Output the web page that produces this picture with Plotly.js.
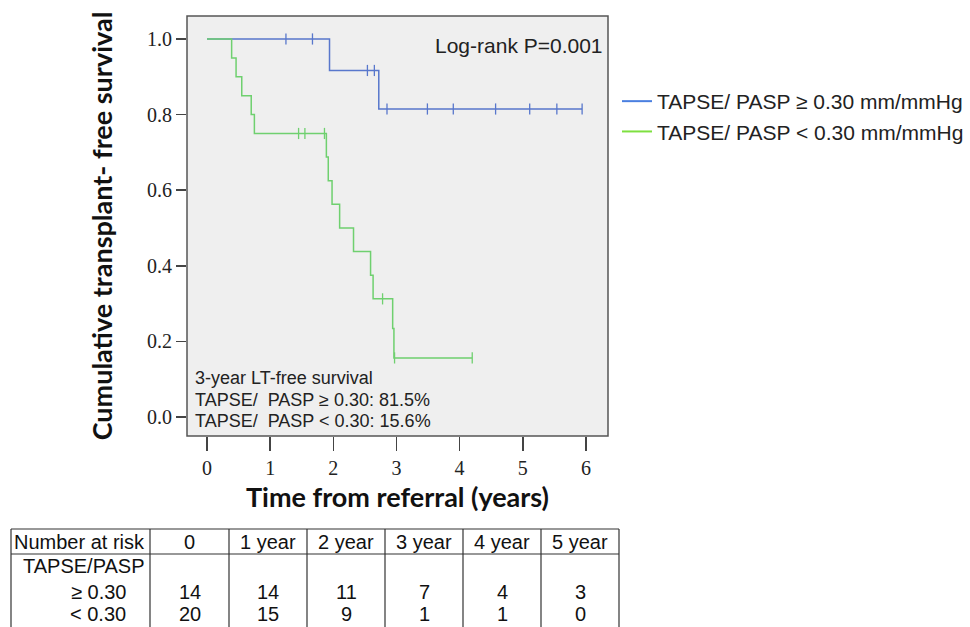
<!DOCTYPE html>
<html>
<head>
<meta charset="utf-8">
<script src="https://cdn.plot.ly/plotly-3.0.1.min.js"></script>
<style>html,body{margin:0;padding:0;background:#fff;}#chart{width:970px;height:627px;}</style>
</head>
<body>
<div id="chart"></div>
<script>
// ---- Data ----
const highName = 'TAPSE/ PASP \u2265 0.30 mm/mmHg';
const lowName = 'TAPSE/ PASP < 0.30 mm/mmHg';

const highTimes = [0, 1.94, 2.72, 5.94];
const highSurv = [1.0, 0.9167, 0.8148, 0.8148];
const highCensor = [1.25, 1.67, 2.54, 2.65, 2.85, 3.49, 3.90, 4.57, 5.11, 5.54, 5.94];

const lowTimes = [0, 0.39, 0.46, 0.55, 0.70, 0.75, 1.89, 1.92, 1.98, 2.10, 2.32, 2.59, 2.63, 2.94, 2.96, 4.20];
const lowSurv = [1.0, 0.95, 0.90, 0.85, 0.80, 0.75, 0.6875, 0.625, 0.5625, 0.50, 0.4375, 0.375, 0.3125, 0.2344, 0.1563, 0.1563];
const lowCensor = [1.45, 1.55, 1.86, 2.78, 2.97, 4.20];

const xTicks = [0, 1, 2, 3, 4, 5, 6];
const yTicks = [0.0, 0.2, 0.4, 0.6, 0.8, 1.0];
const yTickText = ['0.0', '0.2', '0.4', '0.6', '0.8', '1.0'];

const logRankText = 'Log-rank P=0.001';
const noteLines = ['3-year LT-free survival', 'TAPSE/  PASP \u2265 0.30: 81.5%', 'TAPSE/  PASP < 0.30: 15.6%'];

const riskHeader = ['Number at risk', '0', '1 year', '2 year', '3 year', '4 year', '5 year'];
const riskGroupLabel = 'TAPSE/PASP';
const riskRowLabels = ['\u2265 0.30', '< 0.30'];
const riskHigh = [14, 14, 11, 7, 4, 3];
const riskLow = [20, 15, 9, 1, 1, 0];

// ---- Styles / layout ----
const blue = '#5877cc';
const green = '#6fd06f';
const legendBlue = '#4a7fe0';
const legendGreen = '#7ee040';

function stepAt(times, surv, t) {
  let s = surv[0];
  for (let i = 0; i < times.length; i++) { if (times[i] <= t) s = surv[i]; }
  return s;
}

const L = 187, R = 608, T = 16, B = 436, W = 970, H = 627;
const px = x => (x - L) / (R - L);
const py = y => (B - y) / (B - T);

const traces = [
  {x: highTimes, y: highSurv, mode: 'lines', line: {shape: 'hv', color: blue, width: 1.5}, showlegend: false, hoverinfo: 'skip'},
  {x: lowTimes, y: lowSurv, mode: 'lines', line: {shape: 'hv', color: green, width: 1.5}, showlegend: false, hoverinfo: 'skip'},
  {x: highCensor, y: highCensor.map(t => stepAt(highTimes, highSurv, t)), mode: 'markers',
   marker: {symbol: 'line-ns-open', size: 8, color: blue, line: {color: blue, width: 1.3}}, showlegend: false},
  {x: lowCensor, y: lowCensor.map(t => stepAt(lowTimes, lowSurv, t)), mode: 'markers',
   marker: {symbol: 'line-ns-open', size: 8, color: green, line: {color: green, width: 1.3}}, showlegend: false},
  {x: [null], y: [null], mode: 'lines', name: highName, line: {color: legendBlue, width: 2}, legendgroup: 'a'},
  {x: [null], y: [null], mode: 'lines', name: lowName, line: {color: legendGreen, width: 2}, legendgroup: 'b'}
];

const annotations = [];
annotations.push({xref: 'paper', yref: 'paper', x: px(605), y: py(46), xanchor: 'right', yanchor: 'middle',
  text: logRankText, showarrow: false, font: {family: 'Liberation Sans, Arial', size: 21, color: '#222'}});
noteLines.forEach((t, i) => {
  annotations.push({xref: 'paper', yref: 'paper', x: px(193), y: py(378 + i * 21.5), xanchor: 'left', yanchor: 'middle',
    text: t, showarrow: false, font: {family: 'Liberation Sans, Arial', size: 18, color: '#222'}});
});

// risk table
const colLines = [11, 150, 229, 307, 385, 463, 541, 619];
const tFont = {family: 'Liberation Sans, Arial', size: 20, color: '#111'};
riskHeader.forEach((t, i) => {
  if (i === 0) {
    annotations.push({xref: 'paper', yref: 'paper', x: px(12), y: py(542), xanchor: 'left', yanchor: 'middle', text: t, showarrow: false, font: tFont});
  } else {
    annotations.push({xref: 'paper', yref: 'paper', x: px((colLines[i] + colLines[i + 1]) / 2), y: py(542), xanchor: 'center', yanchor: 'middle', text: t, showarrow: false, font: tFont});
  }
});
annotations.push({xref: 'paper', yref: 'paper', x: px(21), y: py(566), xanchor: 'left', yanchor: 'middle', text: riskGroupLabel, showarrow: false, font: tFont});
[riskHigh, riskLow].forEach((row, r) => {
  const yy = r === 0 ? 592 : 614;
  annotations.push({xref: 'paper', yref: 'paper', x: px(128), y: py(yy), xanchor: 'right', yanchor: 'middle', text: riskRowLabels[r], showarrow: false, font: tFont});
  row.forEach((v, i) => {
    annotations.push({xref: 'paper', yref: 'paper', x: px((colLines[i + 1] + colLines[i + 2]) / 2), y: py(yy), xanchor: 'center', yanchor: 'middle', text: String(v), showarrow: false, font: tFont});
  });
});

const shapes = [];
const lineStyle = {color: '#333', width: 1.2};
shapes.push({type: 'line', xref: 'paper', yref: 'paper', x0: px(11), x1: px(619), y0: py(529), y1: py(529), line: lineStyle});
shapes.push({type: 'line', xref: 'paper', yref: 'paper', x0: px(11), x1: px(619), y0: py(554), y1: py(554), line: lineStyle});
colLines.forEach(c => {
  shapes.push({type: 'line', xref: 'paper', yref: 'paper', x0: px(c), x1: px(c), y0: py(529), y1: py(630), line: lineStyle});
});
// plot frame
shapes.push({type: 'rect', xref: 'paper', yref: 'paper', x0: 0, x1: 1, y0: 0, y1: 1, line: {color: '#555', width: 1.5}, fillcolor: 'rgba(0,0,0,0)'});

const layout = {
  width: W, height: H,
  margin: {l: L, r: W - R, t: T, b: H - B, pad: 0, autoexpand: false},
  paper_bgcolor: '#ffffff',
  plot_bgcolor: '#efefef',
  showlegend: true,
  legend: {x: px(617), y: py(81), xanchor: 'left', yanchor: 'top', bgcolor: 'rgba(0,0,0,0)',
    font: {family: 'Liberation Sans, Arial', size: 21, color: '#222'}, tracegroupgap: 0, traceorder: 'grouped'},
  xaxis: {
    range: [-0.317, 6.35], tickvals: xTicks, ticktext: xTicks.map(String),
    ticks: 'outside', ticklen: 14, tickwidth: 1.5, tickcolor: '#444',
    showgrid: false, zeroline: false, showline: false,
    tickfont: {family: 'Liberation Serif, Times New Roman', size: 20, color: '#222'},
    title: {text: 'Time from referral (years)', font: {family: 'Lato, Open Sans', size: 27, color: '#111', weight: 'bold'}, standoff: 10}
  },
  yaxis: {
    range: [-0.0503, 1.0608], tickvals: yTicks, ticktext: yTickText,
    ticks: 'outside', ticklen: 10, tickwidth: 1.5, tickcolor: '#444',
    showgrid: false, zeroline: false, showline: false,
    tickfont: {family: 'Liberation Serif, Times New Roman', size: 20, color: '#222'},
    title: {text: 'Cumulative transplant- free survival', font: {family: 'Lato, Open Sans', size: 27, color: '#111', weight: 'bold'}, standoff: 26}
  },
  annotations: annotations,
  shapes: shapes
};

Plotly.newPlot('chart', traces, layout, {displayModeBar: false, staticPlot: true});
</script>
</body>
</html>
